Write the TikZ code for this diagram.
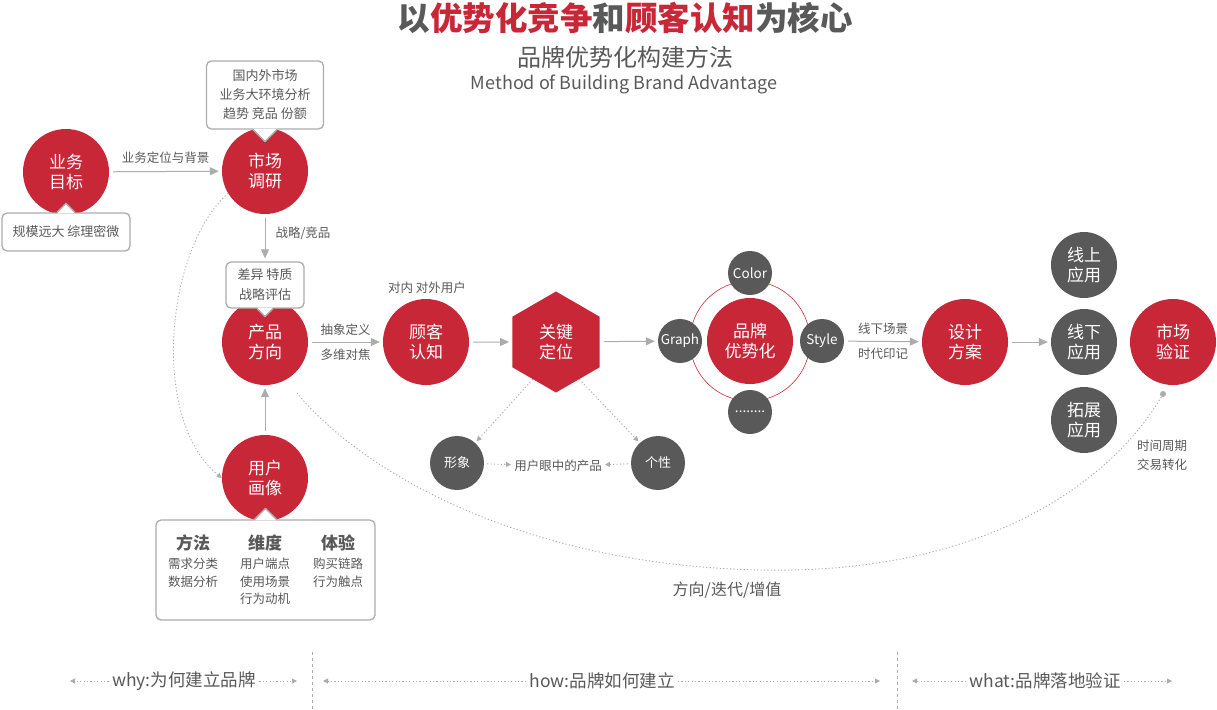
\documentclass[tikz,border=0pt]{standalone}
\usepackage{fontspec}
\setmainfont{Noto Sans CJK SC}
\usetikzlibrary{shapes.geometric,arrows.meta}
\definecolor{brandred}{RGB}{200,39,56}
\definecolor{ballgray}{RGB}{90,89,89}
\definecolor{txtgray}{RGB}{89,89,89}
\definecolor{linegray}{RGB}{172,172,172}
\newcommand{\fs}[2]{\fontsize{#1}{#2}\selectfont}
\tikzset{
  redball/.style={circle, fill=brandred, text=white, inner sep=0pt, minimum size=86pt, align=center, font=\fs{17}{20}},
  grayball/.style={circle, fill=ballgray, text=white, inner sep=0pt, align=center},
  note/.style={draw=linegray, line width=1.3pt, rounded corners=5pt, fill=white, align=center, text=txtgray, font=\fs{13}{19}},
  notch/.style={draw=linegray, line width=1.3pt, line join=round},
  lbl/.style={text=txtgray, font=\fs{12.5}{19}, inner sep=1pt, align=center},
  arr/.style={draw=linegray, line width=1pt, -{Triangle[length=9pt,width=8pt]}, shorten <=4pt, shorten >=3pt},
  dotarr/.style={draw=linegray, line width=0.9pt, dash pattern=on 1.2pt off 2.2pt, -{Triangle[length=5pt,width=5pt]}},
}
\begin{document}
\begin{tikzpicture}[x=1pt, y=-1pt]
\useasboundingbox (0,0) rectangle (1217,709);
% titles
\node (title) at (625,18) {\fs{32.5}{36}\bfseries\textcolor{txtgray}{以}\textcolor{brandred}{优势化竞争}\textcolor{txtgray}{和}\textcolor{brandred}{顾客认知}\textcolor{txtgray}{为核心}};
\node[text=txtgray, font=\fs{24}{26}] (subtitle) at (625,57) {品牌优势化构建方法};
\node[text=txtgray, font=\fs{18}{20}] (entitle) at (624,84) {Method of Building Brand Advantage};

% main row
\node[redball] (yw) at (66,172) {业务\\目标};
\node[redball] (sc) at (265,171) {市场\\调研};
\node[redball] (cp) at (265,342) {产品\\方向};
\node[redball] (hx) at (265,478) {用户\\画像};
\node[redball] (gk) at (426,342) {顾客\\认知};
\node[regular polygon, regular polygon sides=6, shape border rotate=90, minimum size=101pt, inner sep=0pt, fill=brandred, text=white, align=center, font=\fs{17}{20}] (gj) at (556,342) {关键\\定位};
\node[circle, draw=brandred, line width=0.6pt, minimum size=120pt] (ring) at (750,341) {};
\node[redball] (pp) at (750,341) {品牌\\优势化};
\foreach \nm/\txt/\px/\py in {co/{Color}/750/273, gr/{Graph}/680/341, st/{Style}/822/341}
  \node[grayball, minimum size=44pt, font=\fs{13.5}{14}] (\nm) at (\px,\py) {\txt};
\node[grayball, minimum size=44pt, font=\fs{13.5}{14}] (dd) at (750,412) {........};
\node[redball] (sj) at (965,342) {设计\\方案};
\node[grayball, minimum size=66pt, font=\fs{17}{20}] (xs) at (1084,265) {线上\\应用};
\node[grayball, minimum size=66pt, font=\fs{17}{20}] (xx) at (1084,342) {线下\\应用};
\node[grayball, minimum size=66pt, font=\fs{17}{20}] (tz) at (1084,420) {拓展\\应用};
\node[redball] (yz) at (1173,342) {市场\\验证};
\node[grayball, minimum size=54pt, font=\fs{13}{14}] (xxg) at (457,463) {形象};
\node[grayball, minimum size=54pt, font=\fs{13}{14}] (gx) at (658,463) {个性};
\node[lbl] (yan) at (558,466) {用户眼中的产品};

% callouts
\node[note, minimum width=117pt, minimum height=68pt] (n1) at (265,95) {国内外市场\\业务大环境分析\\趋势 竞品 份额};
\fill[white] (n1.south) ++(-12,-1) -- ++(12,13) -- ++(12,-13) -- cycle;
\draw[notch] (n1.south) ++(-12,0) -- ++(12,12) -- ++(12,-12);
\node[note, minimum width=128pt, minimum height=38pt, font=\fs{13}{15}] (n2) at (66,232) {规模远大 综理密微};
\fill[white] (n2.north) ++(-9,1) -- ++(9,-10) -- ++(9,10) -- cycle;
\draw[notch] (n2.north) ++(-9,0) -- ++(9,-9) -- ++(9,9);
\node[note, minimum width=78pt, minimum height=46pt, font=\fs{13}{20}] (n3) at (265,285) {差异 特质\\战略评估};
\fill[white] (n3.south) ++(-8,-1) -- ++(8,9) -- ++(8,-9) -- cycle;
\draw[notch] (n3.south) ++(-8,0) -- ++(8,8) -- ++(8,-8);
\node[note, minimum width=219pt, minimum height=100pt] (n4) at (265.5,570) {};
\fill[white] (n4.north) ++(-11,1) -- ++(11,-12) -- ++(11,12) -- cycle;
\draw[notch] (n4.north) ++(-11,0) -- ++(11,-11) -- ++(11,11);
\foreach \nm/\hd/\bd/\px in {fa/{方法}/{需求分类\\数据分析}/193, wd/{维度}/{用户端点\\使用场景\\行为动机}/265, ty/{体验}/{购买链路\\行为触点}/338}{
  \node[text=txtgray, font=\fs{17}{18}\bfseries] (\nm) at (\px,543) {\hd};
  \node[lbl, anchor=north, font=\fs{12.5}{17.5}] (\nm b) at (\px,557) {\bd};
}

% connectors
\draw[arr] (yw) -- node[lbl, above=6pt] {业务定位与背景} (sc);
\draw[arr] (sc) -- node[lbl, right=9pt, pos=0.4] {战略/竞品} (n3);
\draw[arr] (hx) -- (cp);
\draw[arr] (cp) -- node[lbl, above=5pt] {抽象定义} node[lbl, below=5pt] {多维对焦} (gk);
\node[lbl] (dn) at (427,288) {对内 对外用户};
\draw[arr] (gk) -- (gj);
\draw[arr] (gj) -- (gr);
\draw[arr] (st) -- node[lbl, above=5pt] {线下场景} node[lbl, below=5pt] {时代印记} (sj);
\draw[arr] (sj) -- (xx);
\draw[dotarr, shorten >=2pt] (gj.-122) -- (xxg.48);
\draw[dotarr, shorten >=2pt] (gj.-58) -- (gx.132);
\draw[dotarr, shorten <=3pt, shorten >=2pt] (xxg) -- (yan);
\draw[dotarr, shorten <=3pt, shorten >=2pt] (gx) -- (yan);
\draw[dotarr] (sc.211) .. controls (165,250) and (150,420) .. (hx.west);
% loop back
\coordinate (dt) at (1163,394);
\coordinate (ce) at (297,393);
\fill[linegray] (dt) circle (3pt);
\draw[linegray, line width=0.9pt, dash pattern=on 1.2pt off 2.2pt] (dt) .. controls (1120,470) and (1000,575) .. (760,570) .. controls (520,565) and (360,470) .. (ce);
\node[text=txtgray, font=\fs{16}{18}] (fx) at (727,590) {方向/迭代/增值};
\node[lbl] (sq) at (1162,455) {时间周期\\交易转化};

% bottom row
\node[text=txtgray, font=\fs{17.5}{20}] (why) at (184,681) {why:为何建立品牌};
\node[text=txtgray, font=\fs{17.5}{20}] (how) at (602,681) {how:品牌如何建立};
\node[text=txtgray, font=\fs{17.5}{20}] (what) at (1045,681) {what:品牌落地验证};
\coordinate (w1) at (70,681);
\coordinate (w2) at (297,681);
\coordinate (h1) at (323,681);
\coordinate (h2) at (880,681);
\coordinate (t1) at (912,681);
\coordinate (t2) at (1172,681);
\draw[dotarr] (why) -- (w1);
\draw[dotarr] (why) -- (w2);
\draw[dotarr] (how) -- (h1);
\draw[dotarr] (how) -- (h2);
\draw[dotarr] (what) -- (t1);
\draw[dotarr] (what) -- (t2);
\draw[linegray, line width=0.8pt, dash pattern=on 3pt off 3pt] (312,652) -- (312,709);
\draw[linegray, line width=0.8pt, dash pattern=on 3pt off 3pt] (897,652) -- (897,709);
\end{tikzpicture}
\end{document}
